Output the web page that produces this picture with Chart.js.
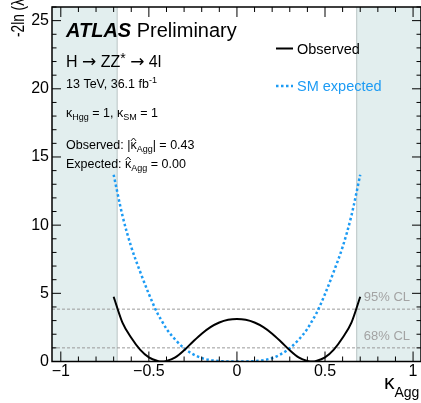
<!DOCTYPE html>
<html>
<head>
<meta charset="utf-8">
<script src="https://cdn.jsdelivr.net/npm/chart.js@4.4.1/dist/chart.umd.min.js"></script>
<style>
  html, body { margin: 0; padding: 0; background: #fff; overflow: hidden; }
  #wrap { width: 421px; height: 403px; }
</style>
</head>
<body>
<div id="wrap"><canvas id="nll" width="421" height="403"></canvas></div>
<script>
// scan points in kappa_Agg
var kappaAgg = [-0.70, -0.65, -0.60, -0.55, -0.50, -0.45, -0.43, -0.40, -0.35, -0.30, -0.25, -0.20, -0.15, -0.10, -0.05, 0,
                0.05, 0.10, 0.15, 0.20, 0.25, 0.30, 0.35, 0.40, 0.43, 0.45, 0.50, 0.55, 0.60, 0.65, 0.70];
var observedNll = [4.75, 2.85, 1.74, 0.87, 0.30, 0.04, 0.0, 0.04, 0.30, 0.82, 1.45, 2.04, 2.52, 2.86, 3.06, 3.12,
                   3.06, 2.86, 2.52, 2.04, 1.45, 0.82, 0.30, 0.04, 0.0, 0.04, 0.30, 0.87, 1.74, 2.85, 4.75];
var expectedNll = [13.7, 10.7, 8.4, 6.6, 4.95, 3.5, 3.05, 2.4, 1.6, 0.97, 0.54, 0.25, 0.1, 0.03, 0.005, 0,
                   0.005, 0.03, 0.1, 0.25, 0.54, 0.97, 1.6, 2.4, 3.05, 3.5, 4.95, 6.6, 8.4, 10.7, 13.7];

var xTickValues = [-1, -0.5, 0, 0.5, 1];
var yTickValues = [0, 5, 10, 15, 20, 25];
var clLevels = [1, 3.84];
var clLabels = ['68% CL', '95% CL'];
var shadeBounds = [-0.68, 0.68];

var SANS = "'Liberation Sans', Arial, sans-serif";
var ARROW = "'DejaVu Sans', sans-serif";
var BLUE = '#1c9bf4';

function pts(ys) {
  return kappaAgg.map(function (k, i) { return { x: k, y: ys[i] }; });
}

// draws a run of text pieces, returns the end x
function drawParts(ctx, x, y, parts) {
  parts.forEach(function (p) {
    ctx.font = p.font;
    ctx.fillStyle = p.color || '#000';
    var w = ctx.measureText(p.text).width;
    ctx.fillText(p.text, x, y + (p.dy || 0));
    if (p.hat) {
      ctx.beginPath();
      ctx.moveTo(x + 0.5, y - 8);
      ctx.lineTo(x + w / 2, y - 11);
      ctx.lineTo(x + w - 0.5, y - 8);
      ctx.lineWidth = 0.9;
      ctx.strokeStyle = p.color || '#000';
      ctx.stroke();
    }
    x += w;
  });
  return x;
}

var bgPlugin = {
  id: 'bg',
  beforeDatasetsDraw: function (chart) {
    var ctx = chart.ctx, a = chart.chartArea;
    var xs = chart.scales.x, ys = chart.scales.y;
    var l = xs.getPixelForValue(shadeBounds[0]);
    var r = xs.getPixelForValue(shadeBounds[1]);
    ctx.save();
    ctx.fillStyle = '#e2eeee';
    ctx.fillRect(a.left, a.top, l - a.left, a.bottom - a.top);
    ctx.fillRect(r, a.top, a.right - r, a.bottom - a.top);
    ctx.strokeStyle = '#b9c4c4';
    ctx.lineWidth = 1;
    ctx.beginPath();
    ctx.moveTo(l, a.top); ctx.lineTo(l, a.bottom);
    ctx.moveTo(r, a.top); ctx.lineTo(r, a.bottom);
    ctx.stroke();

    // confidence level lines
    ctx.strokeStyle = '#9a9a9a';
    ctx.setLineDash([3, 2]);
    clLevels.forEach(function (lv) {
      var py = ys.getPixelForValue(lv);
      ctx.beginPath();
      ctx.moveTo(a.left, py); ctx.lineTo(a.right, py);
      ctx.stroke();
    });
    ctx.setLineDash([]);
    ctx.restore();
  },
  afterDatasetsDraw: function (chart) {
    var ctx = chart.ctx, a = chart.chartArea;
    var xs = chart.scales.x, ys = chart.scales.y;
    ctx.save();

    // frame + inward ticks
    ctx.strokeStyle = '#000';
    ctx.lineWidth = 1.5;
    ctx.strokeRect(a.left, a.top, a.right - a.left, a.bottom - a.top);
    ctx.lineWidth = 1;
    ctx.beginPath();
    for (var i = -10; i <= 10; i++) {
      var px = xs.getPixelForValue(i / 10);
      var len = (i % 5 === 0) ? 10 : 5;
      ctx.moveTo(px, a.bottom); ctx.lineTo(px, a.bottom - len);
      ctx.moveTo(px, a.top); ctx.lineTo(px, a.top + len);
    }
    for (var j = 0; j <= 26; j++) {
      var py = ys.getPixelForValue(j);
      var ln = (j % 5 === 0) ? 9 : 4.5;
      ctx.moveTo(a.left, py); ctx.lineTo(a.left + ln, py);
      ctx.moveTo(a.right, py); ctx.lineTo(a.right - ln, py);
    }
    ctx.stroke();

    // CL labels
    ctx.font = '13px ' + SANS;
    ctx.fillStyle = '#a3a3a3';
    ctx.textAlign = 'right';
    ctx.textBaseline = 'alphabetic';
    clLevels.forEach(function (lv, k) {
      ctx.fillText(clLabels[k], 410, ys.getPixelForValue(lv) - 8);
    });
    ctx.textAlign = 'left';

    // axis titles (y title is narrow and runs off the top)
    ctx.fillStyle = '#000';
    ctx.save();
    ctx.translate(23.5, 37);
    ctx.rotate(-Math.PI / 2);
    ctx.scale(0.72, 1);
    ctx.font = '19px ' + SANS;
    ctx.fillText('-2ln (\u03bb)', 0, 0);
    ctx.restore();
    drawParts(ctx, 384, 389, [
      { text: '\u03ba', font: '21px ' + SANS },
      { text: 'Agg', font: '14px ' + SANS, dy: 8 }
    ]);

    // labels
    var x0 = 66;
    drawParts(ctx, x0, 37, [
      { text: 'ATLAS', font: 'italic bold 20px ' + SANS },
      { text: ' Preliminary', font: '20px ' + SANS }
    ]);
    drawParts(ctx, x0, 67, [
      { text: 'H ', font: '16px ' + SANS },
      { text: '\u2192', font: '17px ' + ARROW },
      { text: ' ZZ', font: '16px ' + SANS },
      { text: '*', font: '14px ' + SANS, dy: -4 },
      { text: ' ', font: '16px ' + SANS },
      { text: '\u2192', font: '17px ' + ARROW },
      { text: ' 4l', font: '16px ' + SANS }
    ]);
    var f = '12.5px ' + SANS, fs = '9px ' + SANS;
    drawParts(ctx, x0, 88, [
      { text: '13 TeV, 36.1 fb', font: f },
      { text: '-1', font: fs, dy: -5 }
    ]);
    drawParts(ctx, x0, 117, [
      { text: '\u03ba', font: f },
      { text: 'Hgg', font: fs, dy: 3 },
      { text: ' = 1, \u03ba', font: f },
      { text: 'SM', font: fs, dy: 3 },
      { text: ' = 1', font: f }
    ]);
    drawParts(ctx, x0, 149, [
      { text: 'Observed: |', font: f },
      { text: '\u03ba', font: f, hat: true },
      { text: 'Agg', font: fs, dy: 3 },
      { text: '| = 0.43', font: f }
    ]);
    drawParts(ctx, x0, 168, [
      { text: 'Expected: ', font: f },
      { text: '\u03ba', font: f, hat: true },
      { text: 'Agg', font: fs, dy: 3 },
      { text: ' = 0.00', font: f }
    ]);

    // legend
    ctx.lineWidth = 2;
    ctx.strokeStyle = '#000';
    ctx.beginPath(); ctx.moveTo(276, 48.5); ctx.lineTo(293, 48.5); ctx.stroke();
    ctx.strokeStyle = BLUE;
    ctx.lineWidth = 2.5;
    ctx.setLineDash([2.5, 2.5]);
    ctx.beginPath(); ctx.moveTo(276, 86); ctx.lineTo(293, 86); ctx.stroke();
    ctx.setLineDash([]);
    drawParts(ctx, 297, 54, [{ text: 'Observed', font: '14.5px ' + SANS }]);
    drawParts(ctx, 297, 91, [{ text: 'SM expected', font: '14.5px ' + SANS, color: BLUE }]);

    ctx.restore();
  }
};

new Chart(document.getElementById('nll'), {
  type: 'line',
  data: {
    datasets: [{
      label: 'Observed',
      data: pts(observedNll),
      borderColor: '#000',
      borderWidth: 2,
      pointRadius: 0,
      cubicInterpolationMode: 'monotone'
    }, {
      label: 'SM expected',
      data: pts(expectedNll),
      borderColor: BLUE,
      borderWidth: 2.5,
      borderDash: [2.5, 2.5],
      pointRadius: 0,
      cubicInterpolationMode: 'monotone'
    }]
  },
  options: {
    responsive: false,
    animation: false,
    devicePixelRatio: 1,
    layout: { padding: { top: 7, left: 0, right: 0, bottom: 0 } },
    plugins: { legend: { display: false }, title: { display: false }, tooltip: { enabled: false } },
    scales: {
      x: {
        type: 'linear', min: -1.05, max: 1.045,
        grid: { display: false, drawTicks: false },
        border: { display: false },
        ticks: {
          autoSkip: false, maxRotation: 0, padding: 0, color: '#000',
          font: { family: SANS, size: 16 },
          callback: function (v) { return v < 0 ? '\u2212' + Math.abs(v) : String(v); }
        },
        afterBuildTicks: function (s) { s.ticks = xTickValues.map(function (v) { return { value: v }; }); },
        afterFit: function (s) { s.height = 41.5; s.paddingLeft = 0; s.paddingRight = 0; }
      },
      y: {
        type: 'linear', min: 0, max: 26,
        grid: { display: false, drawTicks: false },
        border: { display: false },
        ticks: { padding: 3, color: '#000', font: { family: SANS, size: 16 } },
        afterBuildTicks: function (s) { s.ticks = yTickValues.map(function (v) { return { value: v }; }); },
        afterFit: function (s) { s.width = 52; s.paddingTop = 0; s.paddingBottom = 0; }
      }
    }
  },
  plugins: [bgPlugin]
});
</script>
</body>
</html>
